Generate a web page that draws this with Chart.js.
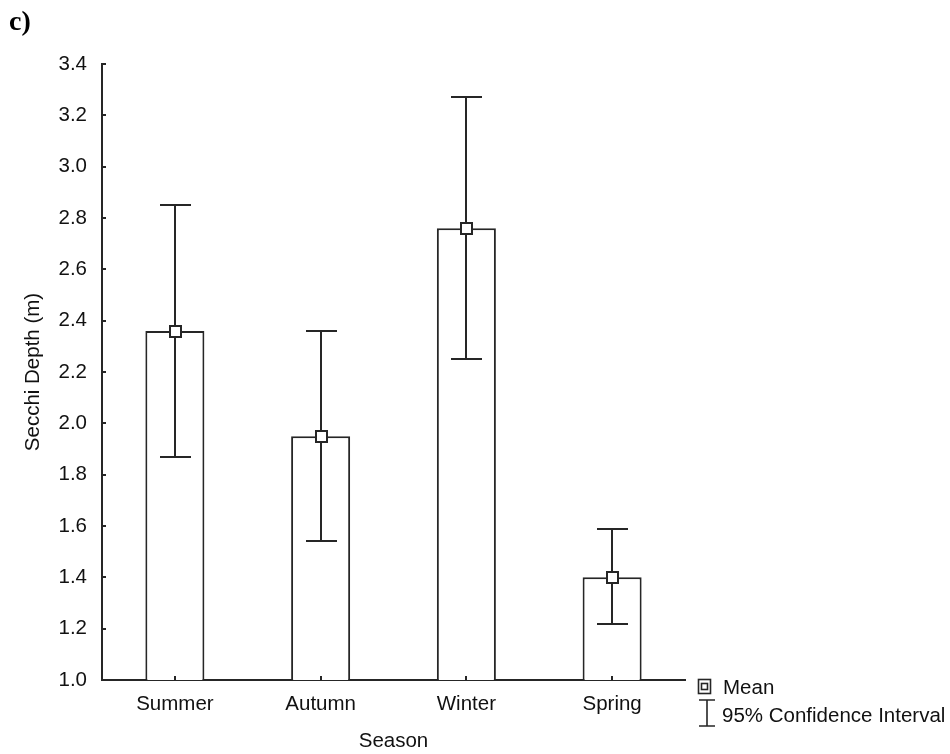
<!DOCTYPE html>
<html>
<head>
<meta charset="utf-8">
<script src="https://cdn.jsdelivr.net/npm/chart.js@4"></script>
<style>
html,body{margin:0;padding:0;background:#fff;}
#wrap{position:relative;width:950px;height:754px;}
canvas{display:block;}
</style>
</head>
<body>
<div id="wrap"><canvas id="c" width="950" height="754"></canvas></div>
<script>
// ---- data ----
const categories = ['Summer', 'Autumn', 'Winter', 'Spring'];
const means      = [2.36, 1.95, 2.76, 1.40];
const ciLower    = [1.87, 1.54, 2.25, 1.22];
const ciUpper    = [2.85, 2.36, 3.27, 1.59];
const yMin = 1.0, yMax = 3.4, yStep = 0.2;
const panelLabel = 'c)';
const xTitle = 'Season';
const yTitle = 'Secchi Depth (m)';
const legendLabels = ['Mean', '95% Confidence Interval'];

const FONT = 'Arial, "Liberation Sans", sans-serif';
const INK = '#262626';
const TXT = '#111111';
const FS = 20.5;

const extras = {
  id: 'extras',
  afterDatasetsDraw(chart) {
    const ctx = chart.ctx, xs = chart.scales.x, ys = chart.scales.y;
    ctx.save();
    ctx.strokeStyle = INK;
    ctx.lineWidth = 2;
    ctx.lineCap = 'butt';
    categories.forEach((c, i) => {
      const px = Math.round(xs.getPixelForValue(i));
      const yU = Math.round(ys.getPixelForValue(ciUpper[i]));
      const yL = Math.round(ys.getPixelForValue(ciLower[i]));
      const yM = Math.round(ys.getPixelForValue(means[i]));
      ctx.beginPath();
      ctx.moveTo(px, yU); ctx.lineTo(px, yL);
      ctx.moveTo(px - 15, yU); ctx.lineTo(px + 16, yU);
      ctx.moveTo(px - 15, yL); ctx.lineTo(px + 16, yL);
      ctx.stroke();
      ctx.fillStyle = '#fff';
      ctx.fillRect(px - 5, yM - 5, 11, 11);
      ctx.strokeRect(px - 5, yM - 5, 11, 11);
      // inward x tick
      ctx.beginPath();
      ctx.moveTo(px, chart.chartArea.bottom); ctx.lineTo(px, chart.chartArea.bottom - 4);
      ctx.stroke();
    });
    // inward y ticks
    ys.ticks.forEach(t => {
      const py = Math.round(ys.getPixelForValue(t.value));
      ctx.beginPath();
      ctx.moveTo(chart.chartArea.left, py); ctx.lineTo(chart.chartArea.left + 4, py);
      ctx.stroke();
    });
    // legend
    ctx.lineWidth = 1.6;
    ctx.strokeRect(698.5, 679.5, 12, 14);
    ctx.strokeRect(701.5, 683.5, 6, 6);
    ctx.beginPath();
    ctx.moveTo(707, 700); ctx.lineTo(707, 726);
    ctx.moveTo(699, 700); ctx.lineTo(715, 700);
    ctx.moveTo(699, 726); ctx.lineTo(715, 726);
    ctx.stroke();
    ctx.fillStyle = TXT;
    ctx.font = FS + 'px ' + FONT;
    ctx.textAlign = 'left';
    ctx.textBaseline = 'middle';
    ctx.fillText(legendLabels[0], 723, 688);
    ctx.fillText(legendLabels[1], 722, 716);
    // panel label
    ctx.font = 'bold 28px "Liberation Serif", "Times New Roman", serif';
    ctx.textBaseline = 'alphabetic';
    ctx.fillStyle = '#000';
    ctx.fillText(panelLabel, 9, 30);
    ctx.restore();
  }
};

new Chart(document.getElementById('c'), {
  type: 'bar',
  data: {
    labels: categories,
    datasets: [{
      data: means,
      backgroundColor: '#ffffff',
      borderColor: INK,
      borderWidth: 2,
      barPercentage: 0.405,
      categoryPercentage: 1.0
    }]
  },
  options: {
    responsive: false,
    animation: false,
    events: [],
    layout: { padding: { left: 0, top: 64, right: 265, bottom: 0 } },
    plugins: { legend: { display: false }, tooltip: { enabled: false } },
    scales: {
      x: {
        grid: { display: false },
        border: { display: true, color: INK, width: 2 },
        ticks: { color: TXT, font: { family: FONT, size: FS }, padding: 4, maxRotation: 0 },
        title: { display: true, text: xTitle, color: TXT, font: { family: FONT, size: FS }, padding: { top: 0, bottom: 0 } },
        afterFit(s) { s.height = 74; }
      },
      y: {
        min: yMin, max: yMax,
        grid: { display: false },
        border: { display: true, color: INK, width: 2 },
        ticks: { stepSize: yStep, color: TXT, font: { family: FONT, size: FS }, padding: 7,
                 callback: v => Number(v).toFixed(1) },
        title: { display: true, text: yTitle, color: TXT, font: { family: FONT, size: FS }, padding: { top: 21, bottom: 0 } },
        afterFit(s) { s.width = 102; }
      }
    }
  },
  plugins: [extras]
});
</script>
</body>
</html>
